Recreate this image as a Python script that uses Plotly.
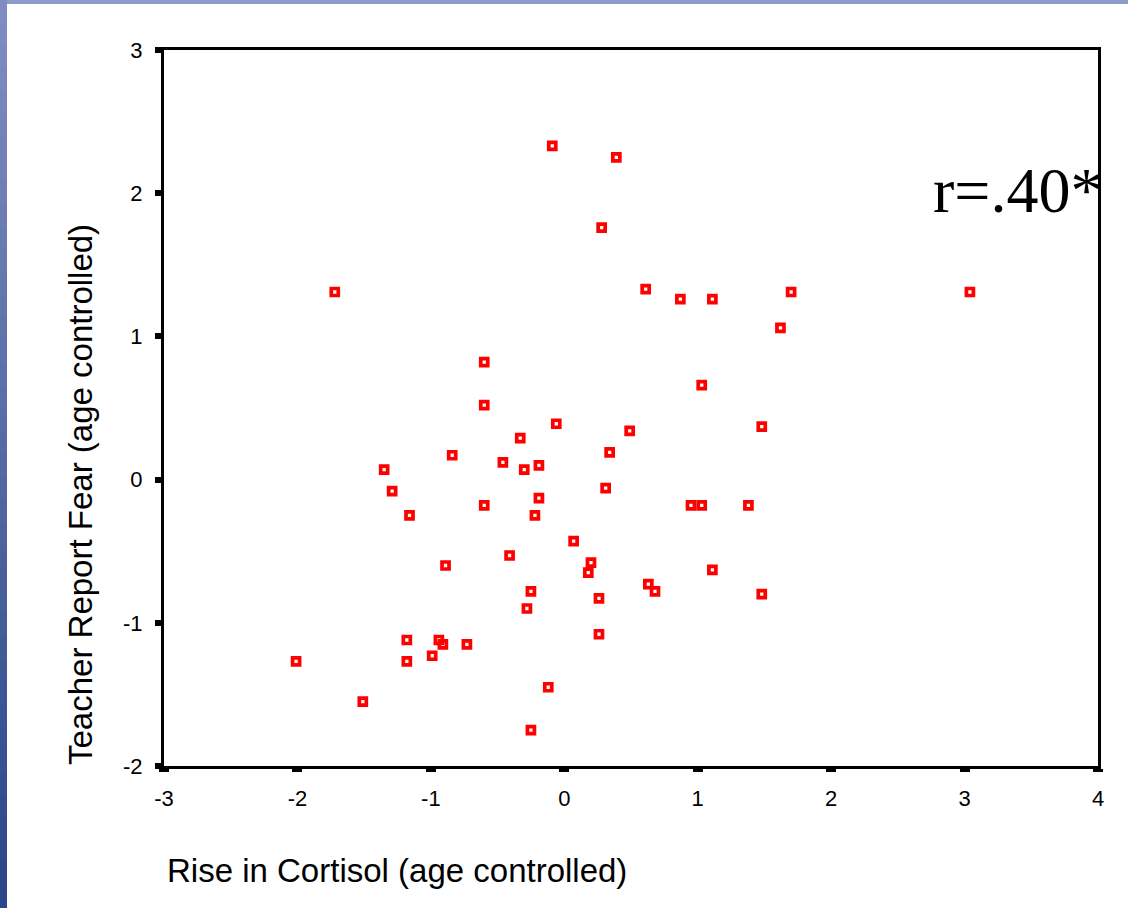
import plotly.graph_objects as go

# Data
rise_cortisol = [-0.09, 0.39, 0.28, -1.72, 0.61, 0.87, 1.11, 1.70, 3.04, 1.62,
                 -0.60, 1.03, -0.60, -0.06, 0.49, 1.48, -0.33, 0.34, -0.84, -0.46,
                 -0.19, -0.30, -1.35, -1.29, 0.31, -0.19, -0.60, 0.95, 1.03, 1.38,
                 -1.16, -0.22, 0.07, -0.41, 0.20, 0.18, -0.89, 1.11, 0.63, 0.68,
                 -0.25, 0.26, 1.48, -0.28, 0.26, -1.18, -0.94, -0.91, -0.73, -0.99,
                 -1.18, -2.01, -0.12, -1.51, -0.25]
teacher_fear = [2.33, 2.25, 1.76, 1.31, 1.33, 1.26, 1.26, 1.31, 1.31, 1.06,
                0.82, 0.66, 0.52, 0.39, 0.34, 0.37, 0.29, 0.19, 0.17, 0.12,
                0.10, 0.07, 0.07, -0.08, -0.06, -0.13, -0.18, -0.18, -0.18, -0.18,
                -0.25, -0.25, -0.43, -0.53, -0.58, -0.65, -0.60, -0.63, -0.73, -0.78,
                -0.78, -0.83, -0.80, -0.90, -1.08, -1.12, -1.12, -1.15, -1.15, -1.23,
                -1.27, -1.27, -1.45, -1.55, -1.75]
x_ticks = [-3, -2, -1, 0, 1, 2, 3, 4]
x_tick_labels = ["-3", "-2", "-1", "0", "1", "2", "3", "4"]
y_ticks = [-2, -1, 0, 1, 2, 3]
y_tick_labels = ["-2", "-1", "0", "1", "2", "3"]
x_title = "Rise in Cortisol (age controlled)"
y_title = "Teacher Report Fear (age controlled)"
r_label = "r=.40*"

W, H = 1128, 908
L, R, T, B = 164, 30, 50, 142
PW, PH = W - L - R, H - T - B

def px(xp):
    return (xp - L) / PW

def py(yp):
    return (H - B - yp) / PH

fig = go.Figure()
fig.add_trace(go.Scatter(
    x=rise_cortisol, y=teacher_fear, mode="markers",
    marker=dict(symbol="square-open", size=7, color="#ff0000",
                line=dict(color="#ff0000", width=3.7)),
    hoverinfo="x+y", showlegend=False,
))

shapes = []
# slide decoration: left gradient strip and top strip
n = 40
top_c = (126, 142, 192)
bot_c = (44, 70, 138)
for i in range(n):
    t = i / (n - 1)
    c = tuple(int(top_c[k] + (bot_c[k] - top_c[k]) * t) for k in range(3))
    y0p = H * i / n
    y1p = H * (i + 1) / n + 1
    shapes.append(dict(type="rect", xref="paper", yref="paper",
                       x0=px(0), x1=px(7), y0=py(y1p), y1=py(y0p),
                       fillcolor="rgb(%d,%d,%d)" % c, line=dict(width=0), layer="below"))
shapes.append(dict(type="rect", xref="paper", yref="paper",
                   x0=px(7), x1=px(W), y0=py(4), y1=py(0),
                   fillcolor="rgb(140,155,200)", line=dict(width=0), layer="below"))

axis_common = dict(showgrid=False, zeroline=False, showline=True, linecolor="black",
                   linewidth=3, mirror=True, ticks="outside", tickcolor="black",
                   tickfont=dict(family="Liberation Sans, Arial", size=22, color="black"))

fig.update_layout(
    width=W, height=H,
    margin=dict(l=L, r=R, t=T, b=B, pad=0),
    paper_bgcolor="white", plot_bgcolor="white",
    xaxis=dict(range=[-3, 4], tickmode="array", tickvals=x_ticks, ticktext=x_tick_labels,
               ticklen=3, tickwidth=10, ticklabelstandoff=8, **axis_common),
    yaxis=dict(range=[-2, 3], tickmode="array", tickvals=y_ticks, ticktext=y_tick_labels,
               ticklen=6, tickwidth=6, ticklabelstandoff=8, **axis_common),
    shapes=shapes,
    annotations=[
        dict(text=x_title, xref="paper", yref="paper", x=px(165), y=py(870),
             xanchor="left", yanchor="middle", showarrow=False,
             font=dict(family="Liberation Sans, Arial", size=33, color="black")),
        dict(text=y_title, xref="paper", yref="paper", x=px(80), y=py(495),
             xanchor="center", yanchor="middle", textangle=-90, showarrow=False,
             font=dict(family="Liberation Sans, Arial", size=33, color="black")),
        dict(text=r_label, xref="paper", yref="paper", x=px(1017), y=py(191),
             xanchor="center", yanchor="middle", showarrow=False,
             font=dict(family="Liberation Serif, Times New Roman", size=64, color="black")),
    ],
)

fig.write_html("out.html")
